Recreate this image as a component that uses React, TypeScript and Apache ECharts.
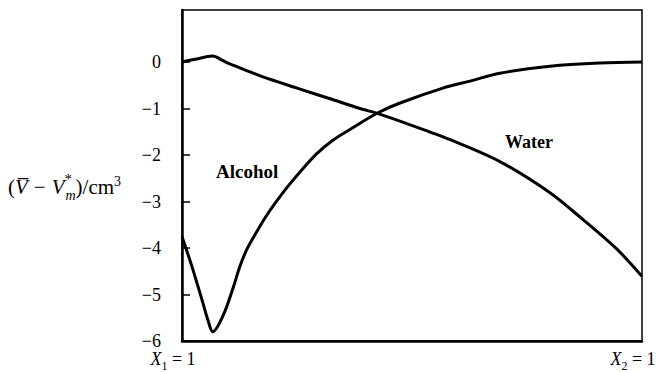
import { useEffect, useRef } from 'react';
import * as echarts from 'echarts';

// Partial molar volume of water (mole fraction X2 from 0 to 1)
const waterX = [0, 0.028, 0.067, 0.087, 0.104, 0.148, 0.176, 0.25, 0.322, 0.387, 0.426, 0.496, 0.583, 0.691, 0.8, 0.872, 0.946, 1.0];
const waterY = [0, 0.06, 0.13, 0.04, -0.04, -0.21, -0.32, -0.56, -0.79, -1.0, -1.11, -1.35, -1.67, -2.14, -2.81, -3.39, -4.03, -4.61];

// Partial molar volume of alcohol
const alcoholX = [0, 0.022, 0.043, 0.057, 0.067, 0.089, 0.111, 0.126, 0.141, 0.159, 0.18, 0.202, 0.228, 0.257, 0.293, 0.328, 0.365, 0.426, 0.474, 0.567, 0.626, 0.691, 0.8, 0.909, 1.0];
const alcoholY = [-3.75, -4.41, -5.1, -5.57, -5.8, -5.46, -4.86, -4.39, -4.03, -3.71, -3.36, -3.04, -2.7, -2.36, -1.97, -1.68, -1.45, -1.09, -0.88, -0.56, -0.41, -0.24, -0.09, -0.02, 0.0];

const yTicks = [0, -1, -2, -3, -4, -5, -6];
const xTicks = [0, 1];
const xTickLabels = ['{i|X}{sub|1}{n| = 1}', '{i|X}{sub|2}{n| = 1}'];

const serif = '"Liberation Serif", "Times New Roman", serif';

export default function App() {
  const ref = useRef<HTMLDivElement>(null);

  useEffect(() => {
    if (!ref.current) return;
    const chart = echarts.init(ref.current, undefined, { renderer: 'svg' });
    const zip = (xs: number[], ys: number[]) => xs.map((x, i) => [x, ys[i]]);

    chart.setOption({
      animation: false,
      backgroundColor: '#fff',
      grid: {
        left: 182,
        right: 18,
        top: 10,
        bottom: 30,
        show: true,
        borderColor: '#000',
        borderWidth: 1.5,
      },
      xAxis: {
        type: 'value',
        min: 0,
        max: 1,
        axisLine: { show: true, onZero: false, lineStyle: { color: '#000', width: 2.5 } },
        axisTick: { show: false },
        splitLine: { show: false },
        axisLabel: {
          customValues: xTicks,
          margin: 9,
          padding: [0, 18, 0, 0],
          formatter: (v: number) => xTickLabels[xTicks.indexOf(v)] ?? '',
          rich: {
            i: { fontFamily: serif, fontStyle: 'italic', fontSize: 18, color: '#000', verticalAlign: 'top', lineHeight: 19 },
            sub: { fontFamily: serif, fontSize: 12, color: '#000', verticalAlign: 'bottom', lineHeight: 19, padding: [0, 0, -3, 0] },
            n: { fontFamily: serif, fontSize: 18, color: '#000', verticalAlign: 'top', lineHeight: 19 },
          },
        },
      },
      yAxis: {
        type: 'value',
        min: -6,
        max: 1.12,
        axisLine: { show: true, onZero: false, lineStyle: { color: '#000', width: 2.5 } },
        axisTick: { show: true, inside: true, length: 8, customValues: yTicks, lineStyle: { color: '#000', width: 1.5 } },
        splitLine: { show: false },
        axisLabel: {
          customValues: yTicks,
          margin: 21,
          fontFamily: serif,
          fontSize: 18,
          color: '#000',
          formatter: (v: number) => (v < 0 ? '\u2212' + Math.abs(v) : String(v)),
        },
      },
      graphic: [
        {
          type: 'text',
          left: 8,
          top: 171,
          style: {
            text: '{n|(}{i|V\u0305}{m|\u2212}{i|V}{sup|*}{sub|m}{n|)/cm}{sup3|3}',
            rich: {
              n: { fontFamily: serif, fontSize: 21, fill: '#000', lineHeight: 31, verticalAlign: 'middle' },
              m: { fontFamily: serif, fontSize: 21, fill: '#000', lineHeight: 31, verticalAlign: 'middle', padding: [0, 6, 0, 6] },
              i: { fontFamily: serif, fontSize: 21, fontStyle: 'italic', fill: '#000', lineHeight: 31, verticalAlign: 'middle' },
              sup: { fontFamily: serif, fontSize: 15, fill: '#000', lineHeight: 31, verticalAlign: 'top', width: 1 },
              sub: { fontFamily: serif, fontSize: 14, fontStyle: 'italic', fill: '#000', lineHeight: 31, verticalAlign: 'bottom' },
              sup3: { fontFamily: serif, fontSize: 14, fill: '#000', lineHeight: 31, verticalAlign: 'top', padding: [3, 0, 0, 0] },
            },
          },
        },
        {
          type: 'text',
          left: 216,
          top: 162,
          style: { text: 'Alcohol', fontFamily: serif, fontSize: 19, fontWeight: 'bold', fill: '#000' },
        },
        {
          type: 'text',
          left: 505,
          top: 133,
          style: { text: 'Water', fontFamily: serif, fontSize: 18, fontWeight: 'bold', fill: '#000' },
        },
      ],
      series: [
        {
          name: 'Water',
          type: 'line',
          data: zip(waterX, waterY),
          showSymbol: false,
          smooth: 0.3,
          lineStyle: { color: '#000', width: 3 },
        },
        {
          name: 'Alcohol',
          type: 'line',
          data: zip(alcoholX, alcoholY),
          showSymbol: false,
          smooth: 0.35,
          lineStyle: { color: '#000', width: 3 },
        },
      ],
    });

    return () => chart.dispose();
  }, []);

  return <div ref={ref} style={{ position: 'fixed', left: 0, top: 0, width: 660, height: 372 }} />;
}
